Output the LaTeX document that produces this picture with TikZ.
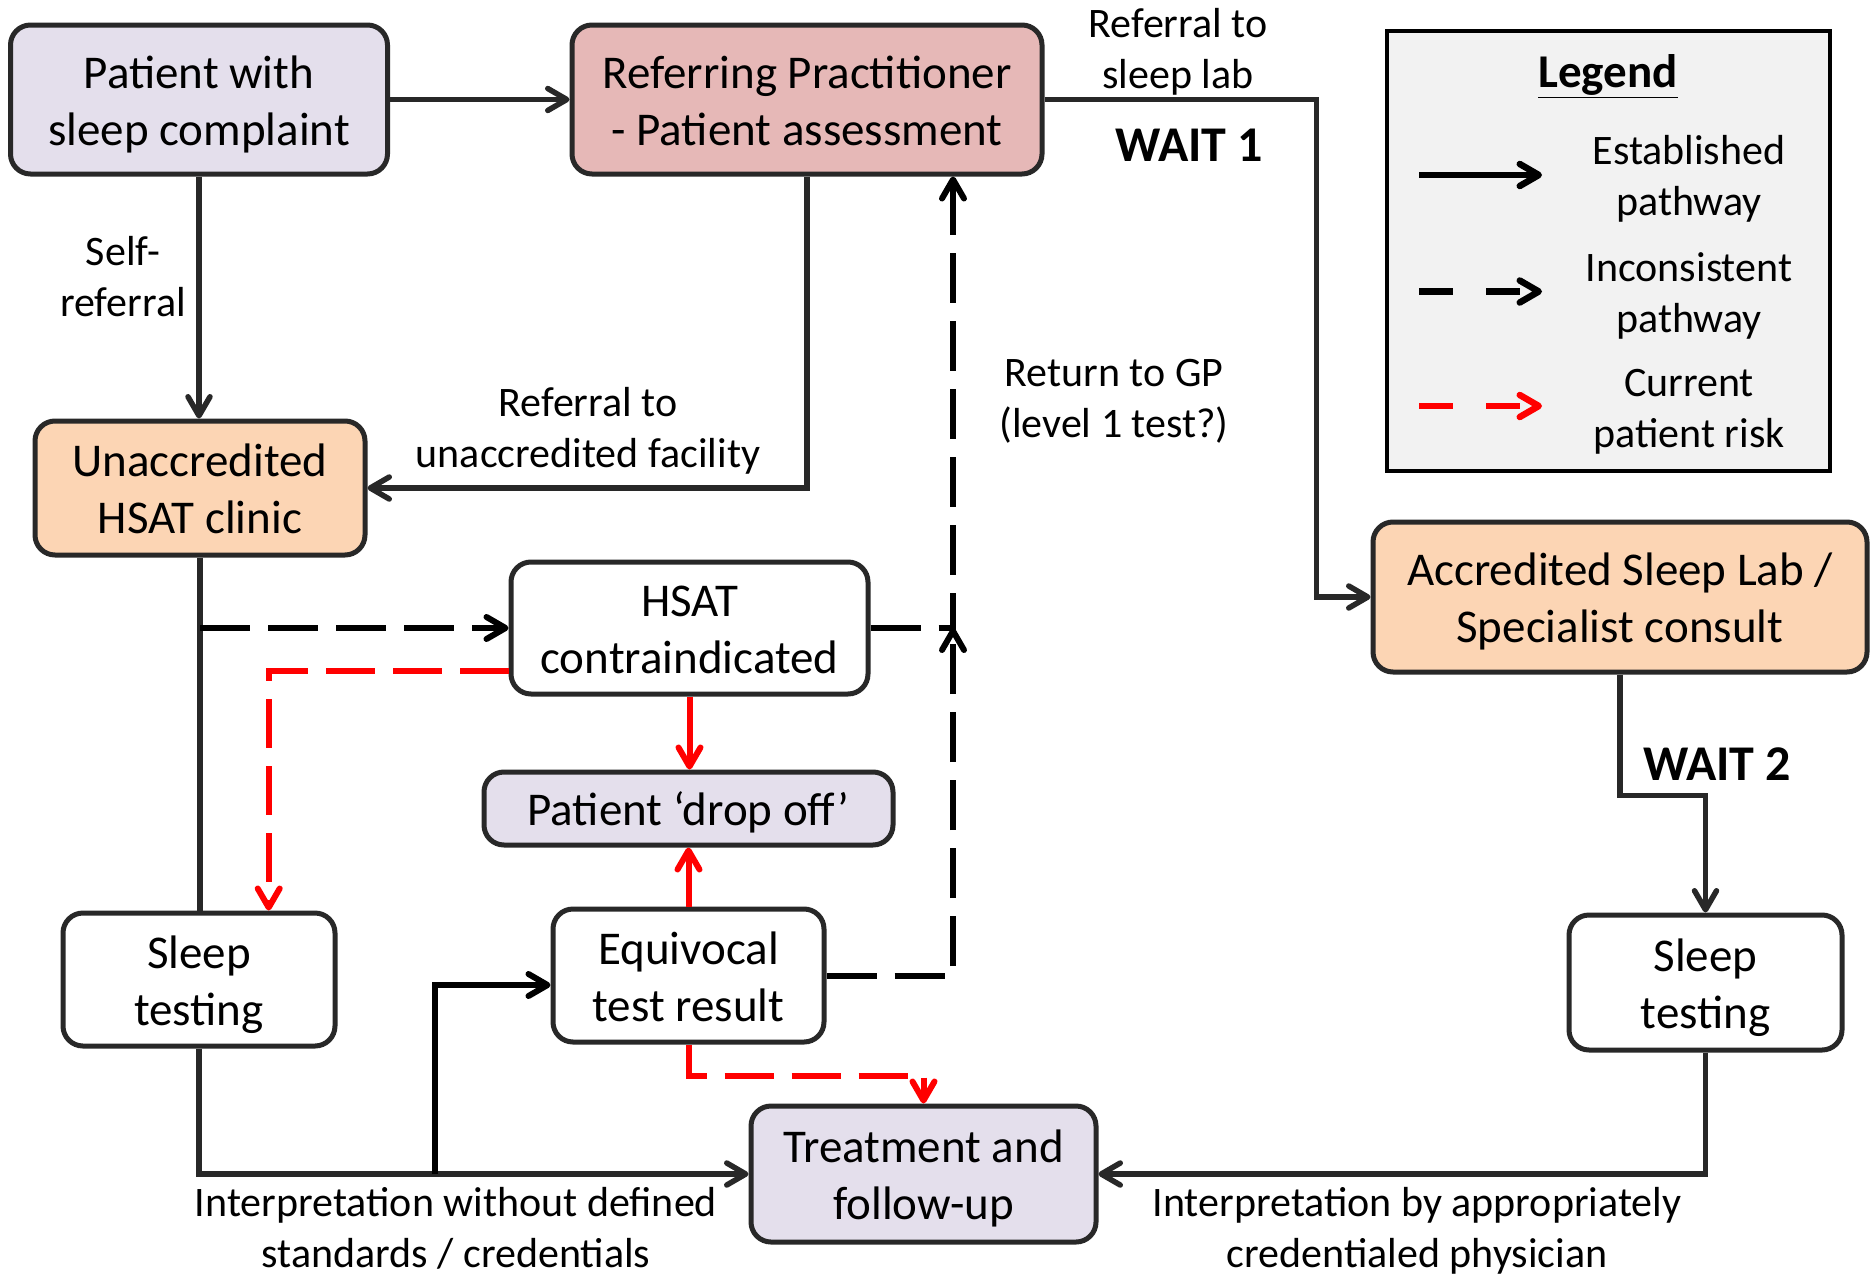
\documentclass[tikz,border=0pt]{standalone}
\usepackage{fontspec}
\setmainfont{Carlito}
\usetikzlibrary{arrows.meta,calc}
\definecolor{lav}{HTML}{E4DFEC}
\definecolor{pinkb}{HTML}{E6B8B7}
\definecolor{peach}{HTML}{FCD5B4}
\definecolor{legbg}{HTML}{F2F2F2}
\definecolor{ln}{HTML}{282828}
\definecolor{rd}{HTML}{FF0000}
\begin{document}
\begin{tikzpicture}[x=1pt,y=-1pt,
 box/.style={draw=ln, line width=5pt, rounded corners=20pt, align=center, font=\fontsize{47}{57}\selectfont, inner sep=0pt,
   text height=99pt, text depth=8pt},
 lbl/.style={align=center, font=\fontsize{42}{51}\selectfont, inner sep=0pt,
   text height=89pt, text depth=8pt},
 waitlbl/.style={font=\fontsize{50}{60}\selectfont\bfseries, inner sep=0pt},
 con/.style={draw=ln, line width=5.5pt},
 tip/.style={-{Straight Barb[length=19pt,width=22pt,round]}},
 dsh/.style={draw=black, line width=6pt, dash pattern=on 50pt off 18pt},
 rdash/.style={draw=rd, line width=6pt, dash pattern=on 49pt off 18pt},
 rsol/.style={draw=rd, line width=6pt},
]
\fill[white] (0,0) rectangle (1871,1274);
\useasboundingbox (0,0) rectangle (1871,1274);

% nodes
\node[box, fill=lav, minimum width=377pt, minimum height=149pt] (pat) at (199,99.5) {Patient with\\sleep complaint};
\node[box, fill=pinkb, minimum width=470pt, minimum height=149pt] (ref) at (807,99.5) {Referring Practitioner\\- Patient assessment};
\node[box, fill=peach, minimum width=330pt, minimum height=134pt] (clin) at (200,488) {Unaccredited\\HSAT clinic};
\node[box, fill=white, minimum width=357pt, minimum height=132pt] (hsat) at (689.5,628) {HSAT\\contraindicated};
\node[box, fill=lav, minimum width=409pt, minimum height=73pt, text height=42pt] (drop) at (688.5,808.5) {Patient ‘drop off’};
\node[box, fill=white, minimum width=272pt, minimum height=133pt] (st1) at (199,979.5) {Sleep\\testing};
\node[box, fill=white, minimum width=271pt, minimum height=133pt] (eq) at (688.5,975.5) {Equivocal\\test result};
\node[box, fill=lav, minimum width=345pt, minimum height=136pt] (treat) at (923.5,1174) {Treatment and\\follow-up};
\node[box, fill=peach, minimum width=494pt, minimum height=150pt] (acc) at (1620,597) {Accredited Sleep Lab /\\Specialist consult};
\node[box, fill=white, minimum width=273pt, minimum height=135pt] (st2) at (1705.5,982.5) {Sleep\\testing};

% legend
\node[draw=black, line width=4.5pt, fill=legbg, minimum width=443pt, minimum height=440pt, inner sep=0pt] (leg) at (1608.5,251) {};
\node[inner sep=0pt, font=\fontsize{47}{57}\selectfont\bfseries, text depth=0pt] (legt) at (1608,71.5) {\underline{Legend}};
\coordinate (la1) at (1419,175);
\coordinate (lb1) at (1542,175);
\coordinate (la2) at (1419,291.5);
\coordinate (lb2) at (1542,291.5);
\coordinate (la3) at (1419,406);
\coordinate (lb3) at (1542,406);
\draw[black, line width=6.5pt, tip] (la1) -- (lb1);
\draw[black, line width=6.5pt, tip, dash pattern=on 34pt off 33pt] (la2) -- (lb2);
\draw[rd, line width=6.5pt, tip, dash pattern=on 34pt off 33pt] (la3) -- (lb3);
\node[lbl] (l1) at (1689,175) {Established\\pathway};
\node[lbl] (l2) at (1689,292) {Inconsistent\\pathway};
\node[lbl] (l3) at (1689,407) {Current\\patient risk};

% connectors
\draw[con, tip] (pat) -- (ref);
\draw[con, tip] (pat.south) -- (pat.south |- clin.north);
\draw[con, tip] (ref.south) |- (clin.east);
\draw[con, tip] (ref.east) -- ++(272,0) |- (acc.west);
\draw[con, tip] (acc.south) -- ++(0,121) -| (st2.north);
\draw[con, tip] (st2.south) |- (treat.east);
\draw[con] (clin.south) -- (clin.south |- st1.north);
\draw[con, tip] (st1.south) |- (treat.west);
\coordinate (j1) at (435,1174);
\draw[black, line width=6pt, tip] (j1) |- (eq.west |- 0,985);
\draw[dsh, tip] (clin.south |- hsat.west) -- (hsat.west);
\coordinate (gp) at (953,0);
\draw[dsh, tip] (hsat.east) -| (ref.south -| gp);
\draw[dsh, tip] (eq.east) -| (hsat.east -| gp);
\draw[rdash, tip] (hsat.west |- 0,671) -| ([xshift=69.7pt]st1.north);
\draw[rsol, tip] (hsat.south) -- (hsat.south |- drop.north);
\draw[rsol, tip] (eq.north) -- (eq.north |- drop.south);
\draw[rdash, tip] (eq.south) -- ++(0,31) -| (treat.north);

% labels
\node[lbl] (selfref) at (123,276) {Self-\\referral};
\node[lbl] (refun) at (588,427) {Referral to\\unaccredited facility};
\node[lbl] (retgp) at (1114,397) {Return to GP\\(level 1 test?)};
\node[lbl] (refsl) at (1178,48) {Referral to\\sleep lab};
\node[waitlbl] (w1) at (1189,145) {WAIT 1};
\node[waitlbl] (w2) at (1717,764) {WAIT 2};
\node[lbl] (intw) at (456,1227) {Interpretation without defined\\standards / credentials};
\node[lbl] (intb) at (1417,1227) {Interpretation by appropriately\\credentialed physician};
\end{tikzpicture}
\end{document}
